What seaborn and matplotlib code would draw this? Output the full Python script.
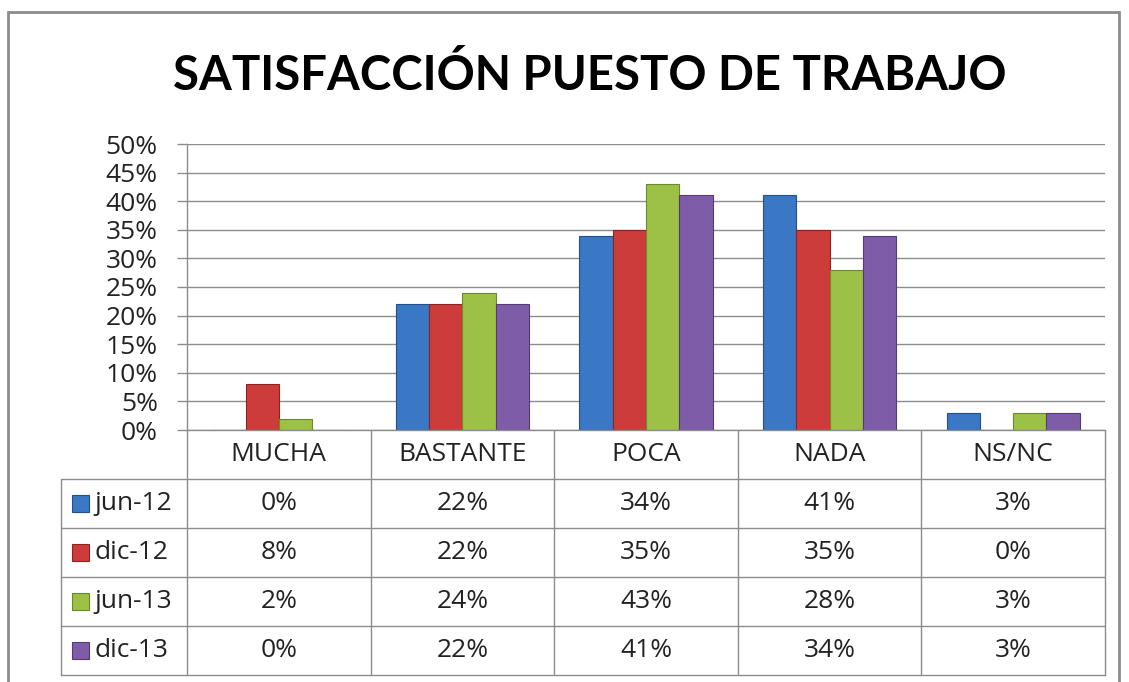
import matplotlib.pyplot as plt
import matplotlib.patches as mpatches
import pandas as pd
import seaborn as sns

categories = ['MUCHA', 'BASTANTE', 'POCA', 'NADA', 'NS/NC']
periods = ['jun-12', 'dic-12', 'jun-13', 'dic-13']
jun12 = [0, 22, 34, 41, 3]
dic12 = [8, 22, 35, 35, 0]
jun13 = [2, 24, 43, 28, 3]
dic13 = [0, 22, 41, 34, 3]
yticks = list(range(0, 55, 5))

colors = ['#3A77C4', '#CC3C3A', '#9DC147', '#7F5CA8']
edges = ['#22508c', '#8e2422', '#6a8a2a', '#553a7a']
grey = '#8c8c8c'

sns.set_theme(style='white')
plt.rcParams['font.family'] = ['Open Sans', 'DejaVu Sans']

series = [jun12, dic12, jun13, dic13]
df = pd.DataFrame({
    'Respuesta': categories * len(periods),
    'Periodo': [p for p in periods for _ in categories],
    'Valor': [v for s in series for v in s],
})

W, H = 1129, 682
fig = plt.figure(figsize=(W / 100, H / 100), dpi=100)


def px(x0, y0, x1, y1):
    return [x0 / W, 1 - y1 / H, (x1 - x0) / W, (y1 - y0) / H]


# bar chart
ax = fig.add_axes(px(187, 144, 1105, 430))
sns.barplot(data=df, x='Respuesta', y='Valor', hue='Periodo', hue_order=periods,
            palette=colors, width=0.725, saturation=1, legend=False, ax=ax)
for cont, ec in zip(ax.containers, edges):
    for bar in cont:
        bar.set_edgecolor(ec)
        bar.set_linewidth(0.8)

ax.set_xlim(-0.5, 4.5)
ax.set_ylim(0, 50)
ax.set_yticks(yticks)
ax.set_yticklabels([f'{v}%' for v in yticks])
ax.set_xticks([])
ax.set_xlabel('')
ax.set_ylabel('')
ax.yaxis.grid(True, color=grey, lw=1)
ax.set_axisbelow(True)
for s in ['top', 'right']:
    ax.spines[s].set_visible(False)
for s in ['left', 'bottom']:
    ax.spines[s].set_color(grey)
    ax.spines[s].set_linewidth(1)
ax.tick_params(axis='y', length=7, width=1, color=grey, labelsize=19,
               labelcolor='#222222', pad=14, left=True)

# data table below the chart
key_w = 126 / 183.6
tax = fig.add_axes(px(61, 430, 1105, 675))
tax.set_xlim(-0.5 - key_w, 4.5)
tax.set_ylim(5, 0)
tax.axis('off')

n = len(categories)
for i in range(n + 1):
    tax.plot([i - 0.5, i - 0.5], [0, 5], color=grey, lw=1, clip_on=False)
tax.plot([-0.5 - key_w] * 2, [1, 5], color=grey, lw=1, clip_on=False)
for r in range(1, 6):
    tax.plot([-0.5 - key_w, 4.5], [r, r], color=grey, lw=1, clip_on=False)

for i, c in enumerate(categories):
    tax.text(i, 0.5, c, ha='center', va='center', fontsize=19, color='#222222')

for r, (p, s, col, ec) in enumerate(zip(periods, series, colors, edges), start=1):
    yc = r + 0.5
    tax.add_patch(mpatches.Rectangle((-0.5 - key_w + 11 / 183.6, yc - 0.17),
                                     17 / 183.6, 0.34, fc=col, ec=ec, lw=0.8))
    tax.text(-0.5 - key_w + 33 / 183.6, yc, p, ha='left', va='center',
             fontsize=19, color='#222222')
    for i, v in enumerate(s):
        tax.text(i, yc, f'{v}%', ha='center', va='center', fontsize=19,
                 color='#222222')

# title and outer frame
fig.text(590 / W, 1 - 75 / H, 'SATISFACCIÓN PUESTO DE TRABAJO', ha='center',
         va='center', fontsize=34, fontweight='bold', color='black',
         family=['Lato', 'DejaVu Sans'])
fig.patches.append(mpatches.Rectangle((8 / W, -0.02), (1119 - 8) / W, 1 - 12 / H + 0.02,
                                      transform=fig.transFigure, fill=False,
                                      ec=grey, lw=2))

fig.savefig('out.png', dpi=100)
